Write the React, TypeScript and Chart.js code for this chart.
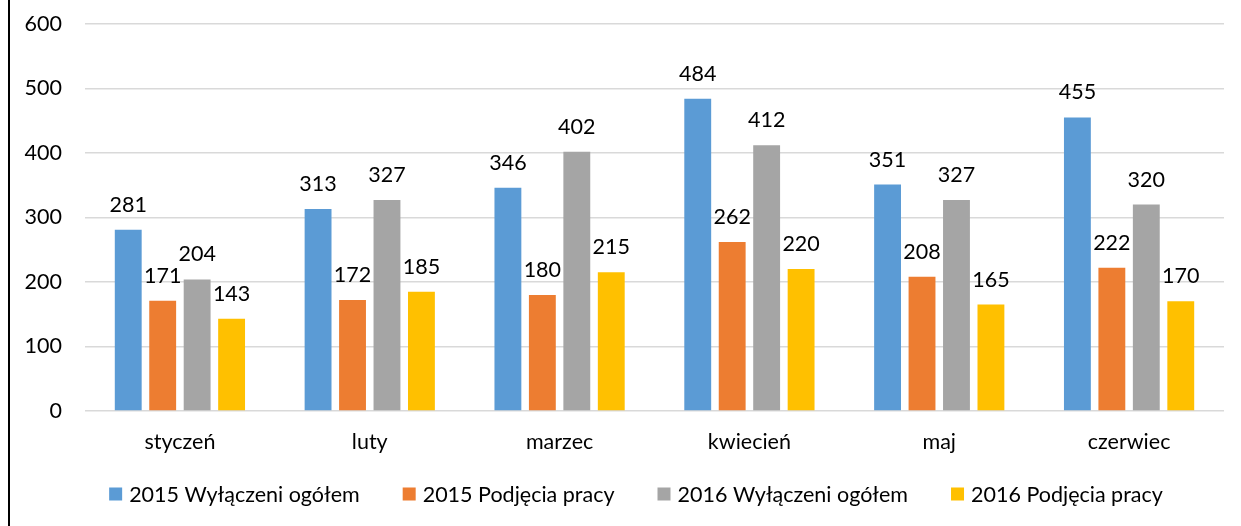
import React, { useEffect, useRef } from "react";
import { Chart, registerables } from "chart.js";

Chart.register(...registerables);

const categories = ["styczeń", "luty", "marzec", "kwiecień", "maj", "czerwiec"];
const seriesNames = [
  "2015 Wyłączeni ogółem",
  "2015 Podjęcia pracy",
  "2016 Wyłączeni ogółem",
  "2016 Podjęcia pracy",
];
const wylaczeni2015 = [281, 313, 346, 484, 351, 455];
const podjecia2015 = [171, 172, 180, 262, 208, 222];
const wylaczeni2016 = [204, 327, 402, 412, 327, 320];
const podjecia2016 = [143, 185, 215, 220, 165, 170];
const colors = ["#5B9BD5", "#ED7D31", "#A5A5A5", "#FFC000"];
const yTicks = [0, 100, 200, 300, 400, 500, 600];

const FONT = "Lato, 'Open Sans', sans-serif";
const FS = 21.5;

const labelPlugin = {
  id: "valueLabels",
  afterDatasetsDraw(chart: any) {
    const ctx = chart.ctx;
    ctx.save();
    ctx.font = `${FS}px ${FONT}`;
    ctx.fillStyle = "#000";
    ctx.textAlign = "center";
    ctx.textBaseline = "middle";
    chart.data.datasets.forEach((ds: any, i: number) => {
      const meta = chart.getDatasetMeta(i);
      meta.data.forEach((bar: any, j: number) => {
        ctx.fillText(String(ds.data[j]), bar.x, bar.y - 25);
      });
    });
    ctx.restore();
  },
};

const legendPlugin = {
  id: "customLegend",
  afterDraw(chart: any) {
    const ctx = chart.ctx;
    ctx.save();
    ctx.font = `${FS}px ${FONT}`;
    ctx.textBaseline = "middle";
    ctx.textAlign = "left";
    const box = 13;
    const boxGap = 7;
    const itemGap = 43;
    const ds = chart.data.datasets;
    const widths = ds.map((d: any) => box + boxGap + ctx.measureText(d.label).width);
    const total = widths.reduce((a: number, b: number) => a + b, 0) + itemGap * (ds.length - 1);
    let x = 636 - total / 2;
    const cy = 494;
    ds.forEach((d: any, i: number) => {
      ctx.fillStyle = d.backgroundColor;
      ctx.fillRect(x, cy - box / 2, box, box);
      ctx.fillStyle = "#000";
      ctx.fillText(d.label, x + box + boxGap, cy + 1);
      x += widths[i] + itemGap;
    });
    ctx.restore();
  },
};

const borderPlugin = {
  id: "leftBorder",
  afterDraw(chart: any) {
    const ctx = chart.ctx;
    ctx.save();
    ctx.strokeStyle = "#000";
    ctx.lineWidth = 2;
    ctx.beginPath();
    ctx.moveTo(9, 0);
    ctx.lineTo(9, chart.height);
    ctx.stroke();
    ctx.restore();
  },
};

export default function App() {
  const ref = useRef<HTMLCanvasElement>(null);
  useEffect(() => {
    if (!ref.current) return;
    const seriesData = [wylaczeni2015, podjecia2015, wylaczeni2016, podjecia2016];
    const chart = new Chart(ref.current, {
      type: "bar",
      data: {
        labels: categories,
        datasets: seriesData.map((d, i) => ({
          label: seriesNames[i],
          data: d,
          backgroundColor: colors[i],
          borderWidth: 0,
          categoryPercentage: 0.726,
          barPercentage: 0.78,
        })),
      },
      options: {
        responsive: false,
        animation: false,
        layout: { padding: { top: 24, right: 17, bottom: 71, left: 0 } },
        plugins: {
          tooltip: { enabled: false },
          legend: { display: false },
        },
        scales: {
          x: {
            grid: { display: false, drawTicks: false },
            border: { display: false },
            ticks: { color: "#000", font: { family: FONT, size: FS }, padding: 18 },
            afterFit: (s: any) => {
              s.height = 44;
            },
          },
          y: {
            min: 0,
            max: 600,
            afterBuildTicks: (s: any) => {
              s.ticks = yTicks.map((v) => ({ value: v }));
            },
            grid: { color: "#D9D9D9", lineWidth: 1.5, drawTicks: false },
            border: { display: false },
            ticks: { color: "#000", font: { family: FONT, size: FS }, padding: 23 },
            afterFit: (s: any) => {
              s.width = 85;
              s.paddingTop = 0;
              s.paddingBottom = 0;
            },
          },
        },
      },
      plugins: [labelPlugin, legendPlugin, borderPlugin],
    });
    return () => chart.destroy();
  }, []);
  return (
    <div style={{ position: "absolute", left: 0, top: 0, width: 1241, height: 526, background: "#fff" }}>
      <canvas ref={ref} width={1241} height={526} style={{ display: "block", width: 1241, height: 526 }} />
    </div>
  );
}
